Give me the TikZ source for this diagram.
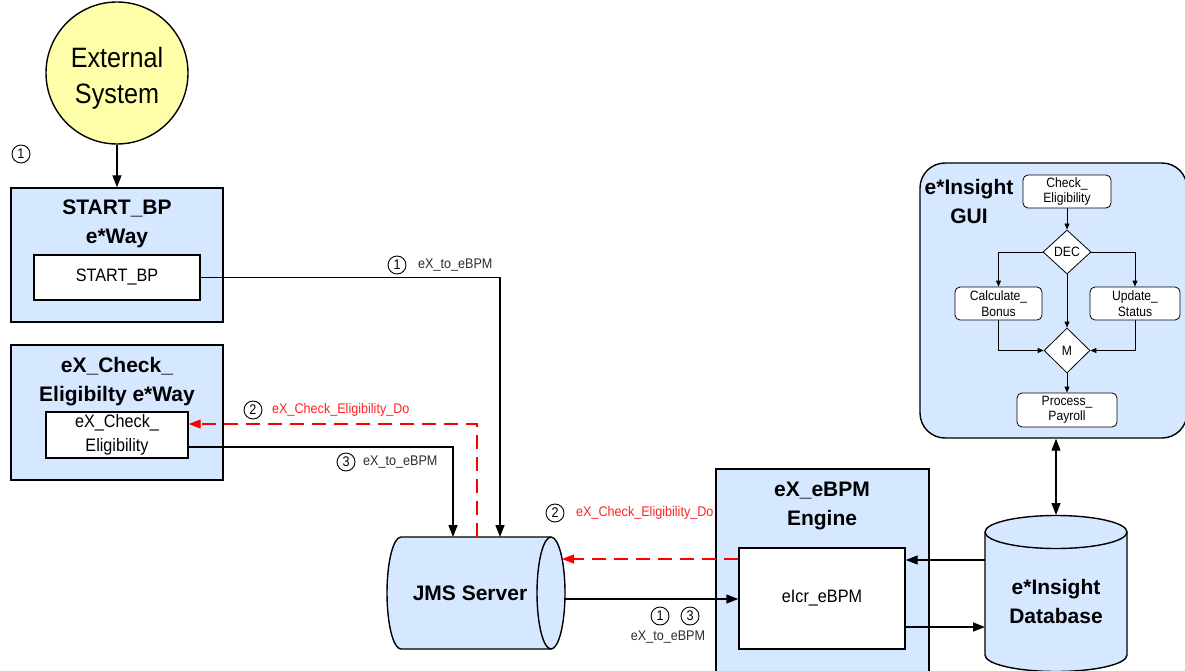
\documentclass[tikz,border=0pt]{standalone}
\usepackage{fontspec}
\setmainfont{Liberation Sans}
\newfontfamily\nar[FakeStretch=0.9]{Liberation Sans}
\usetikzlibrary{arrows.meta,shapes.geometric,calc}
\definecolor{boxblue}{RGB}{214,232,255}
\definecolor{extyellow}{RGB}{255,255,170}
\definecolor{lblgray}{RGB}{45,45,45}
\definecolor{lblred}{RGB}{255,35,35}
\newcommand\setfs[2]{\fontsize{#1}{#2}\selectfont}
\begin{document}
\begin{tikzpicture}[x=1pt,y=-1pt,
  outerbox/.style={draw, line width=1.4pt, fill=boxblue, inner sep=0pt},
  innerbox/.style={draw, line width=1.4pt, fill=white, inner sep=0pt, align=center, font=\nar\setfs{18}{24}},
  titletext/.style={font=\bfseries\setfs{21}{29}, align=center, inner sep=0pt},
  arr/.style={line width=1.4pt, -{Triangle[length=12pt,width=9pt]}},
  dblarr/.style={line width=1.4pt, {Triangle[length=12pt,width=9pt]}-{Triangle[length=12pt,width=9pt]}},
  redarr/.style={arr, red, dash pattern=on 14pt off 8pt},
  num/.style={circle, draw, line width=0.9pt, inner sep=0pt, minimum size=18pt, font=\nar\setfs{14}{14}},
  lbl/.style={font=\nar\setfs{14}{14}, text=lblgray, inner sep=0pt, anchor=west},
  fbox/.style={draw, fill=white, rounded corners=5pt, line width=0.8pt, inner sep=0pt, align=center, font=\nar\setfs{13.5}{15.5}},
  fdia/.style={diamond, draw, fill=white, line width=0.8pt, inner sep=0pt, font=\nar\setfs{13.5}{15}},
  farr/.style={line width=0.8pt, -{Triangle[length=6pt,width=5pt]}}
]
\useasboundingbox (0,0) rectangle (1185,671);
\fill[white] (0,0) rectangle (1185,671);
\clip (0,0) rectangle (1185,671);

% External system
\node[circle, draw, line width=1.4pt, fill=extyellow, minimum size=142pt, inner sep=0pt] (ext) at (117,73) {};
\node[align=center, font=\nar\setfs{28}{36}, inner sep=0pt] (exttext) at (117,78) {External\\System};
\node[num] (n1a) at (21,154) {1};

% START_BP e*Way
\node[outerbox, minimum width=212pt, minimum height=134pt] (startout) at (117,255) {};
\node[titletext] (starttitle) at (117,224) {START\_BP\\e*Way};
\node[innerbox, minimum width=166pt, minimum height=45pt] (startin) at (117,277.5) {START\_BP};

% eX_Check_Eligibilty e*Way
\node[outerbox, minimum width=212pt, minimum height=135pt] (chkout) at (117,412.5) {};
\node[titletext] (chktitle) at (117,381.5) {eX\_Check\_\\Eligibilty e*Way};
\node[innerbox, minimum width=142pt, minimum height=46pt] (chkin) at (117,435) {eX\_Check\_\\Eligibility};

% labels near JMS
\node[num] (n1b) at (397,265) {1};
\node[lbl] (l1b) at (418,265) {eX\_to\_eBPM};
\node[num] (n2a) at (253,410) {2};
\node[lbl, text=lblred] (l2a) at (272,410) {eX\_Check\_Eligibility\_Do};
\node[num] (n3a) at (346,462) {3};
\node[lbl] (l3a) at (363,462) {eX\_to\_eBPM};
\node[num] (n2b) at (555,513) {2};
\node[lbl, text=lblred] (l2b) at (576,513) {eX\_Check\_Eligibility\_Do};
\node[num] (n1c) at (660,616) {1};
\node[num] (n3c) at (690,616) {3};
\node[lbl, anchor=center] (l13c) at (668,637) {eX\_to\_eBPM};

% JMS Server cylinder (horizontal)
\fill[boxblue] (551,537) -- (401,537) arc[start angle=270, end angle=90, x radius=14, y radius=56] -- (551,649) -- cycle;
\draw[line width=1.4pt] (551,537) -- (401,537) arc[start angle=270, end angle=90, x radius=14, y radius=56] -- (551,649);
\filldraw[fill=boxblue, line width=1.4pt] (551,593) ellipse[x radius=14, y radius=56];
\node[font=\bfseries\setfs{21}{25}, inner sep=0pt] (jms) at (470,593) {JMS Server};
\coordinate (jmsA) at (453,537);
\coordinate (jmsB) at (477,537);
\coordinate (jmsC) at (500,537);
\coordinate (jmsR1) at (562,559);
\coordinate (jmsR2) at (565,599);

% eX_eBPM Engine
\node[outerbox, minimum width=213pt, minimum height=221pt] (eng) at (822.5,579.5) {};
\node[titletext] (engtitle) at (822,505.5) {eX\_eBPM\\Engine};
\node[innerbox, minimum width=166pt, minimum height=101pt] (elcr) at (822,598.5) {eIcr\_eBPM};

% e*Insight Database cylinder (vertical)
\fill[boxblue] (985,532) -- (985,655) arc[start angle=180, end angle=0, x radius=71, y radius=16.5] -- (1127,532) -- cycle;
\draw[line width=1.4pt] (985,532) -- (985,655) arc[start angle=180, end angle=0, x radius=71, y radius=16.5] -- (1127,532);
\filldraw[fill=boxblue, line width=1.4pt] (1056,532) ellipse[x radius=71, y radius=16.5];
\node[titletext] (db) at (1056,601) {e*Insight\\Database};
\coordinate (dbtop) at (1056,515);
\coordinate (dbL1) at (985,560);
\coordinate (dbL2) at (985,627);

% e*Insight GUI
\node[outerbox, rounded corners=25pt, minimum width=267pt, minimum height=275pt] (gui) at (1053.5,300.5) {};
\node[titletext] (guititle) at (969,201) {e*Insight\\GUI};
\node[fbox, minimum width=88pt, minimum height=33pt] (fcheck) at (1067,191.5) {Check\_\\Eligibility};
\node[fdia, minimum width=48pt, minimum height=44pt] (fdec) at (1067,252) {DEC};
\node[fbox, minimum width=87pt, minimum height=33pt] (fcalc) at (998.5,303.5) {Calculate\_\\Bonus};
\node[fbox, minimum width=90pt, minimum height=33pt] (fupd) at (1135,303.5) {Update\_\\Status};
\node[fdia, minimum width=46pt, minimum height=45pt] (fm) at (1067,350.5) {M};
\node[fbox, minimum width=100pt, minimum height=34pt] (fproc) at (1067,410) {Process\_\\Payroll};
\draw[farr] (fcheck) -- (fdec);
\draw[farr] (fdec.west) -| (fcalc.north);
\draw[farr] (fdec.east) -| (fupd.north);
\draw[farr] (fdec.south) -- (fm.north);
\draw[farr] (fcalc.south) |- (fm.west);
\draw[farr] (fupd.south) |- (fm.east);
\draw[farr] (fm) -- (fproc);

% connectors
\draw[arr] (ext.south) -- (startout.north);
\draw[arr] (startin.east) -| (jmsC);
\draw[arr] ([yshift=-12pt]chkin.east) -| (jmsA);
\draw[redarr] (jmsB) |- ([yshift=11pt]chkin.east);
\draw[redarr] ([yshift=39.5pt]elcr.west) -- (jmsR1);
\draw[arr] (jmsR2) -- (jmsR2 -| elcr.west);
\draw[arr] (dbL1) -- (dbL1 -| elcr.east);
\draw[arr] (dbL2 -| elcr.east) -- (dbL2);
\draw[dblarr] (dbtop |- gui.south) -- (dbtop);
\end{tikzpicture}
\end{document}
